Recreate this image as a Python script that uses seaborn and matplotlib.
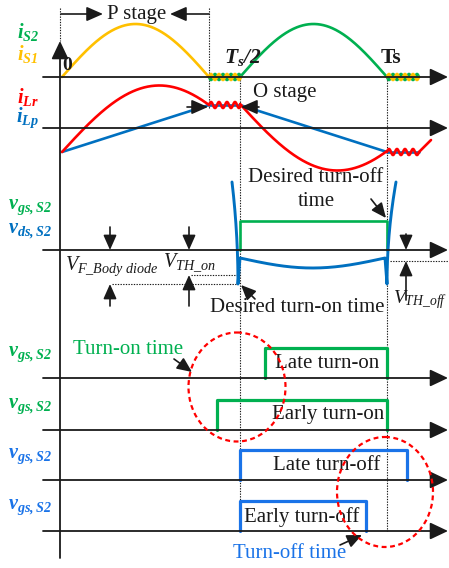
import numpy as np
import matplotlib
matplotlib.use("Agg")
import matplotlib.pyplot as plt
from matplotlib.patches import Ellipse
import seaborn as sns

sns.set_theme(style="white")
plt.rcParams.update({
    'font.family': ['Liberation Serif', 'DejaVu Serif'],
    'mathtext.fontset': 'custom',
    'mathtext.rm': 'Liberation Serif',
    'mathtext.it': 'Liberation Serif:italic',
    'mathtext.bf': 'Liberation Serif:bold',
    'mathtext.bfit': 'Liberation Serif:italic:bold',
})

YELLOW = '#FFC000'
GREEN = '#00B050'
RED = '#FF0000'
BLUE = '#0070C0'
BLUE2 = '#1A73E8'

# === timing (time units from the origin) ===
t_p_end = 147       # end of P stage
t_half = 178        # Ts/2
t_s = 325           # Ts
t_ripple = 32       # oscillation after each half cycle
t_lr_peak = 95      # iLr peak inside a half cycle
t_late_on = 203
t_early_on = 155
t_late_off = 345
t_early_off = 304

# === amplitudes ===
i_sw_peak = 53
i_lp_start = -24
i_lp_end = 23
i_lr_amp = 66
ripple_amp = 3
v_gs_high = 29
v_ds_spike = 68
v_body_diode = -34
v_th_on = -25
v_th_off = -11
v_ds_on = -8
v_ds_sag = -18
gate_high = 30

# === layout (pixels) ===
X0 = 62
ROW = {'is': 77, 'il': 128, 'v': 250, 'late_on': 378, 'early_on': 430,
       'late_off': 480, 'early_off': 531}
LW = 1.9


def px(t):
    return X0 + np.asarray(t, dtype=float)


def line(ax, xs, ys, color, lw=LW, **kw):
    sns.lineplot(x=np.asarray(xs, float), y=np.asarray(ys, float), sort=False,
                 estimator=None, color=color, lw=lw, ax=ax, **kw)


def arrow(ax, x0, y0, x1, y1, hl=0.5, hw=0.24, lw=1.2, ms=20):
    ax.annotate('', xy=(x1, y1), xytext=(x0, y0),
                arrowprops=dict(arrowstyle=f'-|>,head_length={hl},head_width={hw}',
                                color='k', lw=lw, shrinkA=0, shrinkB=0,
                                mutation_scale=ms))


def ripple(t0, base, phase=0.0):
    t = np.linspace(0, t_ripple, 120)
    return px(t0 + t), base - ripple_amp * np.sin(2 * np.pi * t / 8 + phase)


def lr_half(t):
    # resonant current over one half cycle, pinned to the iLp end values
    g = i_lr_amp * np.cos(0.016 * (t - t_lr_peak))
    g0 = i_lr_amp * np.cos(0.016 * (0 - t_lr_peak))
    g1 = i_lr_amp * np.cos(0.016 * (t_p_end - t_lr_peak))
    a = i_lp_start - g0
    b = (i_lp_end - g1 - a) / t_p_end
    return g + a + b * t


fig = plt.figure(figsize=(4.49, 5.68), dpi=100)
ax = fig.add_axes([0, 0, 1, 1])
ax.set_xlim(0, 449)
ax.set_ylim(568, 0)
ax.axis('off')

# dotted guides
dot = dict(color='k', lw=0.8, ls=(0, (1.2, 1.2)))
ax.plot([60, 60], [8, 41], **dot)
ax.plot([px(t_p_end)] * 2, [8, 108], **dot)
ax.plot([px(t_half)] * 2, [ROW['is'], ROW['early_off']], **dot)
ax.plot([px(t_s)] * 2, [ROW['is'], ROW['early_off']], **dot)
ax.plot([112, px(t_half) - 2], [ROW['v'] - v_body_diode] * 2, **dot)
ax.plot([191, px(t_half) - 2], [ROW['v'] - v_th_on] * 2, **dot)
ax.plot([390, 449], [ROW['v'] - v_th_off] * 2, **dot)

# axes
arrow(ax, 60, 558, 60, 41, hl=0.55, hw=0.26, lw=1.3)
for r in ROW.values():
    arrow(ax, 43, r, 448, r, hl=0.55, hw=0.26, lw=1.3)

# --- switch currents ---
t = np.linspace(0, t_p_end, 200)
line(ax, px(t), ROW['is'] - i_sw_peak * np.sin(np.pi * t / t_p_end), YELLOW)
t = np.linspace(t_half, t_s, 200)
line(ax, px(t), ROW['is'] - i_sw_peak * np.sin(np.pi * (t - t_half) / (t_s - t_half)), GREEN)
for t0 in (t_p_end, t_s):
    x, y = ripple(t0, ROW['is'], np.pi)
    line(ax, x, y, GREEN)
    x, y = ripple(t0, ROW['is'])
    line(ax, x, y, YELLOW)

# --- inductor currents ---
lp_a = ROW['il'] - i_lp_start
lp_b = ROW['il'] - i_lp_end
t1 = np.linspace(0, t_p_end, 200)
blue1 = lp_a + (lp_b - lp_a) * t1 / t_p_end
t2 = np.linspace(t_half, t_s, 200)
blue2 = lp_b + (lp_a - lp_b) * (t2 - t_half) / (t_s - t_half)
line(ax, px(t1), blue1, BLUE)
line(ax, [px(t_p_end), px(t_half)], [lp_b, lp_b], BLUE)
line(ax, px(t2), blue2, BLUE)
line(ax, [px(t_s), px(t_s + t_ripple)], [lp_a, lp_a], BLUE)
line(ax, px(t1), ROW['il'] - lr_half(t1), RED)
line(ax, px(t2), ROW['il'] + lr_half(t2 - t_half), RED)
x, y = ripple(t_p_end, lp_b)
line(ax, x, y, RED)
x, y = ripple(t_s, lp_a)
line(ax, x, y, RED)
line(ax, [px(t_s + t_ripple), px(t_s + t_ripple + 12)], [lp_a, lp_a - 12], RED)

# --- vgs / vds ---
vb = ROW['v']
line(ax, px([t_half, t_half, t_s, t_s]), [vb, vb - v_gs_high, vb - v_gs_high, vb], GREEN)
s = np.linspace(0, 1, 60)
xl = px(t_half) - 2 - 6 * (1 - s) ** 2
yl = vb - v_ds_spike + (v_ds_spike - v_body_diode) * s
tm = np.linspace(t_half, t_s - 2, 100)
ym = vb - v_ds_on - (v_ds_sag - v_ds_on) * np.sin(np.pi * (tm - t_half) / (t_s - 2 - t_half))
xr = px(t_s) + 9 * s ** 2
yr = vb - v_body_diode - (v_ds_spike - v_body_diode) * s
xs = np.concatenate([xl, [px(t_half)], px(tm), [px(t_s)], xr])
ys = np.concatenate([yl, [vb - v_ds_on], ym, [vb - v_body_diode], yr])
line(ax, xs, ys, BLUE, lw=2.1)


# --- gate signal variants ---
def gate(t_on, t_off, base, color):
    line(ax, px([t_on, t_on, t_off, t_off]), [base, base - gate_high, base - gate_high, base], color, lw=2.3)


gate(t_late_on, t_s, ROW['late_on'], GREEN)
gate(t_early_on, t_s, ROW['early_on'], GREEN)
gate(t_half, t_late_off, ROW['late_off'], BLUE2)
gate(t_half, t_early_off, ROW['early_off'], BLUE2)

# red dashed circles
for c, w, h in [((237, 387), 97, 109), ((385, 492), 96, 110)]:
    ax.add_patch(Ellipse(c, w, h, fill=False, ec=RED, lw=1.6, ls=(0, (2.2, 1.6)), zorder=5))

# --- labels ---
lab = dict(ha='center', va='center', fontsize=14.5)
ax.text(28, 32, r'$\mathbfit{i}_{\mathbfit{S2}}$', color=GREEN, **lab)
ax.text(28, 54, r'$\mathbfit{i}_{\mathbfit{S1}}$', color=YELLOW, **lab)
ax.text(28, 97, r'$\mathbfit{i}_{\mathbfit{Lr}}$', color=RED, **lab)
ax.text(28, 118, r'$\mathbfit{i}_{\mathbfit{Lp}}$', color=BLUE, **lab)
ax.text(30, 207, r'$\mathbfit{v}_{\mathbfit{gs,S2}}$', color=GREEN, **lab)
ax.text(30, 231, r'$\mathbfit{v}_{\mathbfit{ds,S2}}$', color=BLUE, **lab)
for yy, col in [(354, GREEN), (406, GREEN), (456, BLUE2), (507, BLUE2)]:
    ax.text(30, yy, r'$\mathbfit{v}_{\mathbfit{gs,S2}}$', color=col, **lab)

ax.text(67, 66, '0', ha='center', va='center', fontsize=14, fontweight='bold', color='k')
ax.text(243, 58, r'$\mathbfit{T}_{\mathbfit{s}}\mathbfit{/2}$', ha='center', va='center', fontsize=15.5, color='k')
ax.text(391, 58, 'Ts', ha='center', va='center', fontsize=15.5, fontweight='bold', color='k')

txt = dict(ha='center', va='center', fontsize=15, color='k')
ax.text(137, 14, 'P stage', **txt)
arrow(ax, 61, 14, 103, 14, hl=0.5, hw=0.22)
arrow(ax, 209, 14, 170, 14, hl=0.5, hw=0.22)

ax.text(285, 93, 'O stage', **txt)
arrow(ax, 187, 107, 208, 107, hl=0.5, hw=0.22)
arrow(ax, 259, 107, 241, 107, hl=0.5, hw=0.22)

ax.text(316, 178, 'Desired turn-off', **txt)
ax.text(316, 202, 'time', **txt)
arrow(ax, 371, 199, 386, 218, hl=0.45, hw=0.2)
ax.text(297, 307, 'Desired turn-on time', **txt)
arrow(ax, 255, 299, 241, 285, hl=0.45, hw=0.2)

# threshold markers
for xa, tip_up in [(110, vb - v_body_diode), (189, vb - v_th_on)]:
    arrow(ax, xa, vb - 23, xa, vb, hl=0.45, hw=0.2)
    arrow(ax, xa, 306, xa, tip_up, hl=0.45, hw=0.2)
arrow(ax, 406, vb - 16, 406, vb, hl=0.45, hw=0.2)
arrow(ax, 406, 300, 406, vb - v_th_off, hl=0.45, hw=0.2)

mt = dict(va='center', fontsize=14.5, color='k')
ax.text(112, 266, r'$V_{F\_Body\ diode}$', ha='center', **mt)
ax.text(189, 263, r'$V_{TH\_on}$', ha='center', **mt)
ax.text(447, 300, r'$V_{TH\_off}$', ha='right', va='center', fontsize=14, color='k')

ax.text(327, 363, 'Late turn-on', **txt)
ax.text(328, 414, 'Early turn-on', **txt)
ax.text(327, 465, 'Late turn-off', **txt)
ax.text(302, 517, 'Early turn-off', **txt)

ax.text(128, 349, 'Turn-on time', ha='center', va='center', fontsize=15, color=GREEN)
arrow(ax, 174, 359, 192, 372, hl=0.45, hw=0.2)
ax.text(290, 553, 'Turn-off time', ha='center', va='center', fontsize=15, color=BLUE2)
arrow(ax, 340, 545, 362, 535, hl=0.45, hw=0.2)

fig.savefig('out.png', dpi=100)
